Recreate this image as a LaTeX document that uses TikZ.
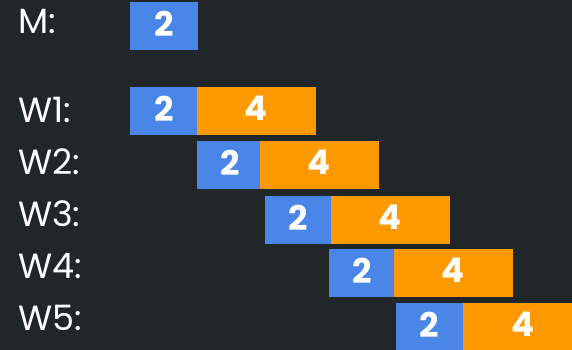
\documentclass[tikz,border=0pt]{standalone}
\usepackage{fontspec}
\setmainfont{Poppins}
\usepackage{tikz}
\usepackage{xcolor}
\usetikzlibrary{positioning}
\definecolor{bgdark}{HTML}{212729}
\definecolor{taskblue}{HTML}{4A86E8}
\definecolor{taskorange}{HTML}{FF9900}

\begin{document}
\begin{tikzpicture}[x=1pt,y=-1pt,
    every node/.style={inner sep=0pt,outer sep=0pt,text=white},
    lbl/.style={anchor=base west,font=\fontsize{35}{40}\selectfont},
    blu/.style={fill=taskblue,anchor=north west,minimum height=48pt,text depth=5pt,font=\fontsize{34}{40}\selectfont\bfseries},
    org/.style={fill=taskorange,anchor=north west,minimum height=48pt,minimum width=119pt,text depth=5pt,font=\fontsize{34}{40}\selectfont\bfseries}]
    \clip (0,0) rectangle (572,350);
    \fill[bgdark] (0,0) rectangle (572,350);
    % labels
    \node[lbl] (lM) at (18,34) {M:};
    \node[lbl] (l1) at (18,122) {W1:};
    \node[lbl] (l2) at (18,174) {W2:};
    \node[lbl] (l3) at (18,226.5) {W3:};
    \node[lbl] (l4) at (18,278) {W4:};
    \node[lbl] (l5) at (18,330) {W5:};
    % master
    \node[blu,minimum width=68pt] (bM) at (130,2) {2};
    % workers
    \node[blu,minimum width=68pt] (b1) at (130,87) {2};
    \node[org] (o1) at (197,87) {4};
    \node[blu,minimum width=66pt] (b2) at (197,141) {2};
    \node[org] (o2) at (260,141) {4};
    \node[blu,minimum width=67pt] (b3) at (265,196) {2};
    \node[org] (o3) at (331,196) {4};
    \node[blu,minimum width=66pt] (b4) at (329,249) {2};
    \node[org] (o4) at (394,249) {4};
    \node[blu,minimum width=67pt] (b5) at (396,303) {2};
    \node[org] (o5) at (463,303) {4};
  \end{tikzpicture}
\end{document}
